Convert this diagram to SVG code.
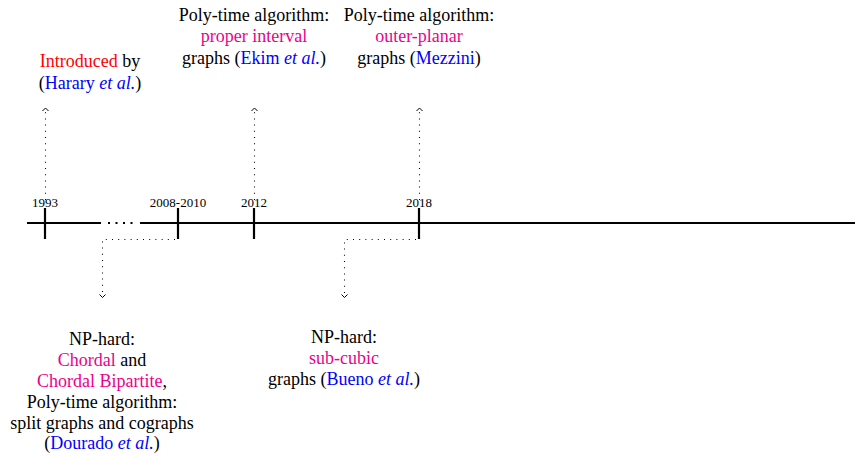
<svg xmlns="http://www.w3.org/2000/svg" width="855" height="454" viewBox="0 0 855 454">
  <style>
    text { font-family: "Liberation Serif", "Times New Roman", serif; fill: #000; }
    .lbl { font-size: 18px; text-anchor: middle; }
    .yr { font-size: 13px; text-anchor: middle; }
    .red { fill: #ff0000; }
    .mag { fill: #ec008c; }
    .blu { fill: #0000ff; }
    .it { font-style: italic; }
    .axis { stroke: #000; stroke-width: 2; fill: none; }
    .tick { stroke: #000; stroke-width: 2.2; }
    .dot { stroke: #000; stroke-width: 1.1; stroke-dasharray: 1 5.2; fill: none; }
    .head { stroke: #000; stroke-width: 1; fill: none; }
  </style>

  <!-- timeline axis -->
  <g id="axis">
    <line class="axis" x1="27" y1="223" x2="101" y2="223"/>
    <line stroke="#000" stroke-width="2" stroke-dasharray="2 5.5" x1="108" y1="223" x2="136" y2="223"/>
    <line class="axis" x1="140" y1="223" x2="855" y2="223"/>
  </g>

  <!-- year ticks -->
  <g id="y1993">
    <line class="tick" x1="45" y1="208" x2="45" y2="239"/>
    <text class="yr" x="45" y="207">1993</text>
  </g>
  <g id="y2008">
    <line class="tick" x1="178" y1="208" x2="178" y2="239"/>
    <text class="yr" x="178" y="207">2008-2010</text>
  </g>
  <g id="y2012">
    <line class="tick" x1="254" y1="208" x2="254" y2="239"/>
    <text class="yr" x="254" y="207">2012</text>
  </g>
  <g id="y2018">
    <line class="tick" x1="419" y1="208" x2="419" y2="239"/>
    <text class="yr" x="419" y="207">2018</text>
  </g>

  <!-- dotted leaders -->
  <g id="connectors">
    <line class="dot" x1="45.5" y1="200" x2="45.5" y2="111"/>
    <path class="head" d="M42.5,111 L45.5,108 L48.5,111"/>

    <line class="dot" x1="254.5" y1="200" x2="254.5" y2="111"/>
    <path class="head" d="M251.5,111 L254.5,108 L257.5,111"/>

    <line class="dot" x1="419.5" y1="200" x2="419.5" y2="111"/>
    <path class="head" d="M416.5,111 L419.5,108 L422.5,111"/>

    <path class="dot" d="M175,239.5 L102.5,239.5 L102.5,294"/>
    <path class="head" d="M99.5,294.5 L102.5,297.5 L105.5,294.5"/>

    <path class="dot" d="M416,239.5 L344.5,239.5 L344.5,294"/>
    <path class="head" d="M341.5,294.5 L344.5,297.5 L347.5,294.5"/>
  </g>

  <!-- event descriptions -->
  <g id="ev1993">
    <text class="lbl" x="90" y="67">
      <tspan class="red">Introduced</tspan> by</text>
    <text class="lbl" x="90" y="88.5">(<tspan class="blu">Harary <tspan class="it">et al.</tspan></tspan>)</text>
  </g>

  <g id="ev2012">
    <text class="lbl" x="254" y="20.5">Poly-time algorithm:</text>
    <text class="lbl mag" x="254" y="42">proper interval</text>
    <text class="lbl" x="254" y="63.5">graphs (<tspan class="blu">Ekim <tspan class="it">et al.</tspan></tspan>)</text>
  </g>

  <g id="ev2018">
    <text class="lbl" x="419" y="20.5">Poly-time algorithm:</text>
    <text class="lbl mag" x="419" y="42">outer-planar</text>
    <text class="lbl" x="419" y="63.5">graphs (<tspan class="blu">Mezzini</tspan>)</text>
  </g>

  <g id="ev2008">
    <text class="lbl" x="102" y="345">NP-hard:</text>
    <text class="lbl" x="102" y="366"><tspan class="mag">Chordal</tspan> and</text>
    <text class="lbl" x="102" y="387"><tspan class="mag">Chordal Bipartite</tspan>,</text>
    <text class="lbl" x="102" y="408">Poly-time algorithm:</text>
    <text class="lbl" x="102" y="428.5">split graphs and cographs</text>
    <text class="lbl" x="102" y="449">(<tspan class="blu">Dourado <tspan class="it">et al.</tspan></tspan>)</text>
  </g>

  <g id="ev2018b">
    <text class="lbl" x="344" y="343">NP-hard:</text>
    <text class="lbl mag" x="344" y="363.5">sub-cubic</text>
    <text class="lbl" x="344" y="384.5">graphs (<tspan class="blu">Bueno <tspan class="it">et al.</tspan></tspan>)</text>
  </g>
</svg>
